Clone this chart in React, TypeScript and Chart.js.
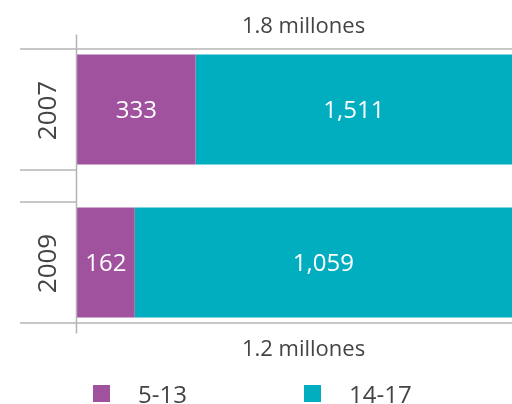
import React, { useEffect, useRef } from "react";
import { Chart, registerables } from "chart.js";

Chart.register(...registerables);

const years = ["2007", "2009"];
const seriesNames = ["5-13", "14-17"];
const ages5to13 = [333, 162];
const ages14to17 = [1511, 1059];
const totalUnit = "millones";

const PURPLE = "#A0529E";
const TEAL = "#00AEC0";
const GRID = "#b4b4b4";
const TEXT = "#444444";
const FONT = "'Open Sans', 'Noto Sans', sans-serif";

const decorPlugin = {
  id: "decor",
  afterDatasetsDraw(chart: any) {
    const ctx = chart.ctx;
    const area = chart.chartArea;
    const m0 = chart.getDatasetMeta(0);
    const m1 = chart.getDatasetMeta(1);
    const n = chart.data.labels.length;
    ctx.save();
    // data labels
    ctx.fillStyle = "#ffffff";
    ctx.font = `24px ${FONT}`;
    ctx.textAlign = "center";
    ctx.textBaseline = "alphabetic";
    [m0, m1].forEach((meta: any, di: number) => {
      meta.data.forEach((el: any, i: number) => {
        const p = el.getProps(["x", "y", "base"], true);
        const left = Math.max(Math.min(p.x, p.base), area.left);
        const right = Math.min(Math.max(p.x, p.base), area.right);
        const v = chart.data.datasets[di].data[i] as number;
        ctx.fillText(v.toLocaleString("en-US"), (left + right) / 2, p.y + 8.5);
      });
    });
    // grid lines
    ctx.strokeStyle = GRID;
    ctx.lineWidth = 1.5;
    const firstEl = m0.data[0].getProps(["y", "height"], true);
    const lastEl = m0.data[n - 1].getProps(["y", "height"], true);
    const axisX = area.left - 0.5;
    const line = (x1: number, y1: number, x2: number, y2: number) => {
      ctx.beginPath();
      ctx.moveTo(x1, y1);
      ctx.lineTo(x2, y2);
      ctx.stroke();
    };
    for (let i = 0; i < n; i++) {
      const e = m0.data[i].getProps(["y", "height"], true);
      const top = e.y - e.height / 2 - 5.5;
      const bot = e.y + e.height / 2 + 5.5;
      line(20, top, i === 0 ? area.right : axisX, top);
      line(20, bot, i === n - 1 ? area.right : axisX, bot);
    }
    line(axisX, firstEl.y - firstEl.height / 2 - 20, axisX, lastEl.y + lastEl.height / 2 + 16);
    // year labels
    ctx.fillStyle = TEXT;
    ctx.font = `26px ${FONT}`;
    ctx.textBaseline = "middle";
    for (let i = 0; i < n; i++) {
      const e = m0.data[i].getProps(["y"], true);
      ctx.save();
      ctx.translate(49, e.y + 1);
      ctx.rotate(-Math.PI / 2);
      ctx.fillText(chart.data.labels[i], 0, 0);
      ctx.restore();
    }
    // totals
    ctx.font = `22px ${FONT}`;
    ctx.textBaseline = "alphabetic";
    const cx = (area.left + area.right) / 2 + 9;
    const tot = (i: number) =>
      ((ages5to13[i] + ages14to17[i]) / 1000).toFixed(1) + " " + totalUnit;
    ctx.fillText(tot(0), cx, firstEl.y - firstEl.height / 2 - 21);
    ctx.fillText(tot(n - 1), cx, lastEl.y + lastEl.height / 2 + 38);
    // legend
    ctx.font = `24px ${FONT}`;
    ctx.textAlign = "left";
    const legX = [93, 304];
    chart.data.datasets.forEach((ds: any, i: number) => {
      ctx.fillStyle = ds.backgroundColor;
      ctx.fillRect(legX[i], 385, 17, 17);
      ctx.fillStyle = TEXT;
      ctx.fillText(ds.label, legX[i] + 45, 403);
    });
    ctx.restore();
  },
};

export default function App() {
  const ref = useRef<HTMLCanvasElement | null>(null);
  useEffect(() => {
    document.body.style.margin = "0";
    const chart = new Chart(ref.current as HTMLCanvasElement, {
      type: "bar",
      data: {
        labels: years,
        datasets: [
          { label: seriesNames[0], data: ages5to13, backgroundColor: PURPLE },
          { label: seriesNames[1], data: ages14to17, backgroundColor: TEAL },
        ],
      },
      options: {
        indexAxis: "y",
        animation: false,
        responsive: false,
        events: [],
        layout: { padding: { left: 77, top: 33, bottom: 65, right: 0 } },
        scales: {
          x: {
            stacked: true,
            display: false,
            min: 0,
            max: ages5to13[1] + ages14to17[1],
          },
          y: { stacked: true, display: false },
        },
        plugins: {
          legend: { display: false },
          tooltip: { enabled: false },
        },
      },
      plugins: [decorPlugin],
    });
    return () => chart.destroy();
  }, []);
  return <canvas ref={ref} width={512} height={404} style={{ display: "block" }} />;
}
